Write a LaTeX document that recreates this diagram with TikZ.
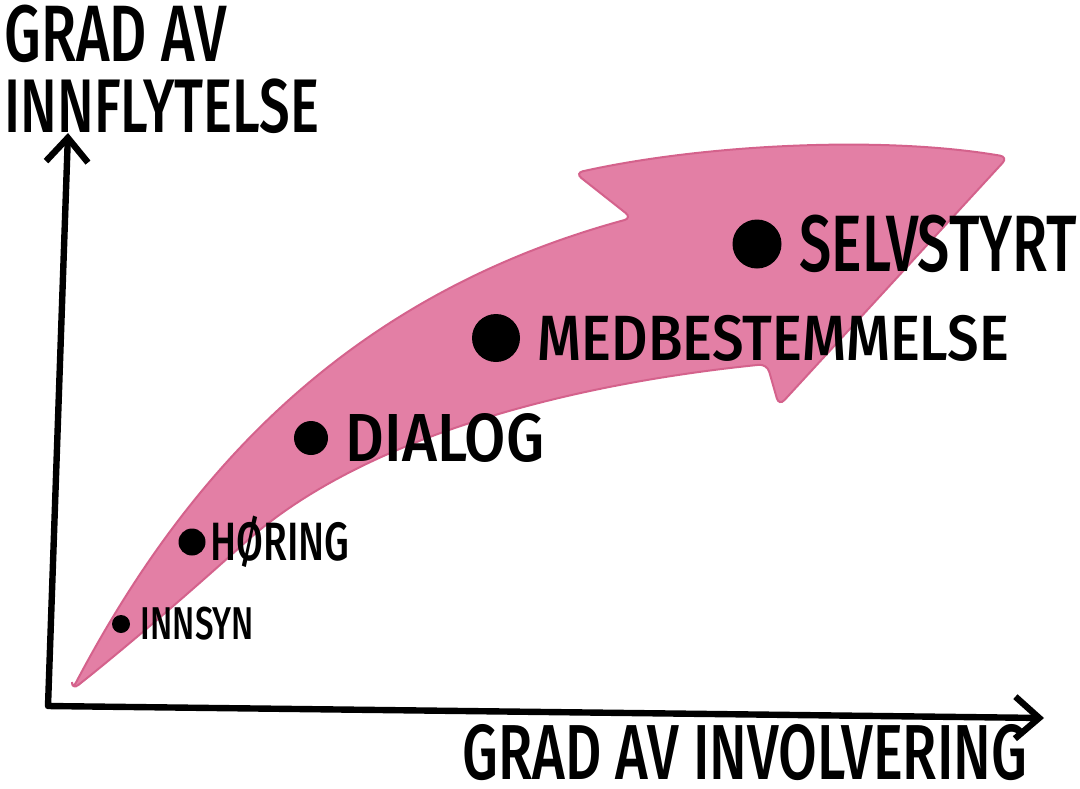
\documentclass[tikz,border=0pt]{standalone}
\usepackage{fontspec}
\usepackage{tikz}
\usetikzlibrary{positioning, arrows.meta}
\newfontfamily\handfont[FakeStretch=0.72]{Fira Sans Medium}
\newfontfamily\handwide[FakeStretch=0.88]{Fira Sans Medium}
\definecolor{pinkarrow}{RGB}{227,127,165}
\definecolor{pinkrim}{RGB}{212,98,140}

\begin{document}
\begin{tikzpicture}[
        x=0.5pt, y=-0.5pt,
        axis/.style={line width=3.2pt, line cap=round, line join=round, {Straight Barb[length=12pt, width=21pt]}-{Straight Barb[length=12pt, width=21pt]}},
        dot/.style={circle, fill=black, inner sep=0pt, minimum size=#1},
        lbl/.style={inner sep=0pt, font=\handfont\fontsize{#1}{#1}\selectfont},
        widelbl/.style={inner sep=0pt, font=\handwide\fontsize{#1}{#1}\selectfont}
    ]
        \useasboundingbox (0,0) rectangle (1080,788);

        % Arrow
        \fill[pinkarrow, draw=pinkrim, line width=1pt, rounded corners=4pt]
            (72,690) .. controls (175,495) and (330,300) .. (632,218)
            -- (575,173)
            .. controls (700,145) and (880,135) .. (1008,157)
            -- (779,406) -- (767,364)
            .. controls (560,385) and (360,440) .. (240,547)
            .. controls (170,610) and (110,660) .. cycle;

        % Axes
        \coordinate (origin) at (48,706);
        \coordinate (ytip) at (68,133);
        \coordinate (xtip) at (1044,718);
        \draw[axis] (ytip) -- (origin) -- (xtip);

        \node[lbl=40pt, anchor=north west] (ylabel) at (4,5) {GRAD AV};
        \node[lbl=38pt, anchor=north west] (ylabel2) at (4,78) {INNFLYTELSE};
        \node[lbl=39pt, anchor=west] (xlabel) at (462,753) {GRAD AV INVOLVERING};

        % Steps
        \node[dot=9pt] (innsyn) at (121,624) {};
        \node[dot=13.5pt] (horing) at (192,542) {};
        \node[dot=17pt] (dialog) at (311,438) {};
        \node[dot=24pt] (medbest) at (496,338) {};
        \node[dot=24.5pt] (selvstyrt) at (757,244) {};

        \node[lbl=23pt, right=5pt of innsyn] (innsynlbl) {INNSYN};
        \node[lbl=27pt, right=2pt of horing] (horinglbl) {HØRING};
        \node[widelbl=34pt, right=8.5pt of dialog] (dialoglbl) {DIALOG};
        \node[widelbl=32pt, right=8.5pt of medbest] (medbestlbl) {MEDBESTEMMELSE};
        \node[lbl=40pt, right=8.5pt of selvstyrt] (selvstyrtlbl) {SELVSTYRT};
    \end{tikzpicture}
\end{document}
